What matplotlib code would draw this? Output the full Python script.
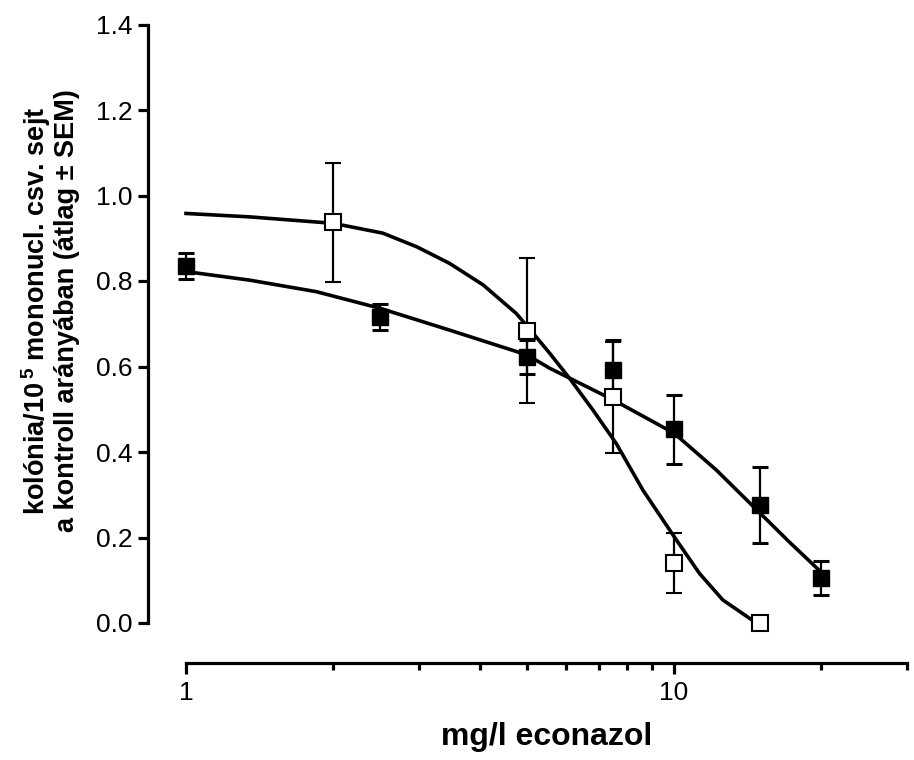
import matplotlib
matplotlib.use("Agg")
import matplotlib.pyplot as plt
from matplotlib import font_manager
from matplotlib.ticker import FixedLocator, NullFormatter

plt.rcParams['font.family'] = ['Liberation Sans', 'DejaVu Sans']
plt.rcParams['mathtext.fontset'] = 'custom'
plt.rcParams['mathtext.rm'] = 'Liberation Sans'
plt.rcParams['mathtext.bf'] = 'Liberation Sans:bold'

# the original uses a tall, narrow Helvetica; take the narrow cut if we have it
names = set(f.name for f in font_manager.fontManager.ttflist)
if 'Liberation Sans Narrow' in names:
    tick_font, tick_size = 'Liberation Sans Narrow', 22
else:
    tick_font, tick_size = 'Liberation Sans', 19

# measured points (filled squares)
x_filled = [1, 2.5, 5, 7.5, 10, 15, 20]
y_filled = [0.835, 0.716, 0.623, 0.592, 0.453, 0.276, 0.106]
e_filled = [0.03, 0.03, 0.04, 0.07, 0.08, 0.09, 0.04]

# measured points (open squares)
x_open = [2, 5, 7.5, 10, 15]
y_open = [0.937, 0.684, 0.528, 0.141, 0.0]
e_open = [0.14, 0.17, 0.13, 0.07, 0.0]

# fitted curves
fit_filled_x = [1, 1.35, 1.85, 2.5, 3.47, 5.0, 5.56, 7.5, 10, 12.2, 15, 17.2, 19.8]
fit_filled_y = [0.822, 0.802, 0.775, 0.736, 0.685, 0.627, 0.596, 0.522, 0.444,
                0.358, 0.257, 0.190, 0.124]
fit_open_x = [1, 1.35, 2.0, 2.53, 2.97, 3.47, 4.06, 4.75, 5.14, 5.56, 6.11, 6.82,
              7.61, 8.63, 10, 11.27, 12.58, 14.4, 15]
fit_open_y = [0.958, 0.950, 0.935, 0.912, 0.880, 0.841, 0.791, 0.724, 0.678, 0.631,
              0.572, 0.498, 0.420, 0.311, 0.202, 0.116, 0.054, 0.008, 0.0]

y_ticks = [0.0, 0.2, 0.4, 0.6, 0.8, 1.0, 1.2, 1.4]
x_major = [1, 10]
x_minor = [2, 3, 4, 5, 6, 7, 8, 9, 20, 30]

fig = plt.figure(figsize=(9.14, 7.6), dpi=100)
ax = fig.add_axes([186 / 914, 137 / 760, 721 / 914, 598.5 / 760])
ax.set_xscale('log')
ax.set_xlim(1, 30)
ax.set_ylim(0, 1.4)

ax.plot(fit_filled_x, fit_filled_y, color='black', lw=2.6, clip_on=False, zorder=2)
ax.plot(fit_open_x, fit_open_y, color='black', lw=2.6, clip_on=False, zorder=2)

ax.errorbar(x_filled, y_filled, yerr=e_filled, fmt='s', color='black',
            mfc='black', mec='black', ms=12, elinewidth=1.6, capsize=6,
            capthick=2.2, clip_on=False, zorder=3)
eb = ax.errorbar(x_open, y_open, yerr=e_open, fmt='s', color='black',
                 mfc='white', mec='black', mew=1.5, ms=12, elinewidth=1.6,
                 capsize=6, capthick=2.2, clip_on=False, zorder=4)
for c in eb.lines[1]:
    c.set_clip_on(False)

for s in ['top', 'right']:
    ax.spines[s].set_visible(False)
ax.spines['left'].set_position(('outward', 27.4))
ax.spines['bottom'].set_position(('outward', 28.8))
ax.spines['left'].set_linewidth(2.3)
ax.spines['bottom'].set_linewidth(2.3)

ax.set_yticks(y_ticks)
ax.set_yticklabels(['%.1f' % v for v in y_ticks])
ax.xaxis.set_major_locator(FixedLocator(x_major))
ax.set_xticklabels(['1', '10'])
ax.xaxis.set_minor_locator(FixedLocator(x_minor))
ax.xaxis.set_minor_formatter(NullFormatter())

ax.tick_params(axis='y', which='major', length=7, width=2.3, pad=4)
ax.tick_params(axis='x', which='major', length=8, width=2.3, pad=5)
ax.tick_params(axis='x', which='minor', length=5, width=2.3)
for lab in ax.get_xticklabels() + ax.get_yticklabels():
    lab.set_family(tick_font)
    lab.set_size(tick_size)

ax.set_xlabel('mg/l econazol', fontsize=23, fontweight='bold', labelpad=12)
fig.text(50 / 914, 1 - 311 / 760,
         'kolónia/10$^{\\,\\mathbf{5}}$ mononucl. csv. sejt\n'
         'a kontroll arányában (átlag ± SEM)',
         rotation=90, ha='center', va='center', multialignment='center',
         fontsize=19.5, fontweight='bold', linespacing=1.05)

fig.savefig('out.png', dpi=100)
